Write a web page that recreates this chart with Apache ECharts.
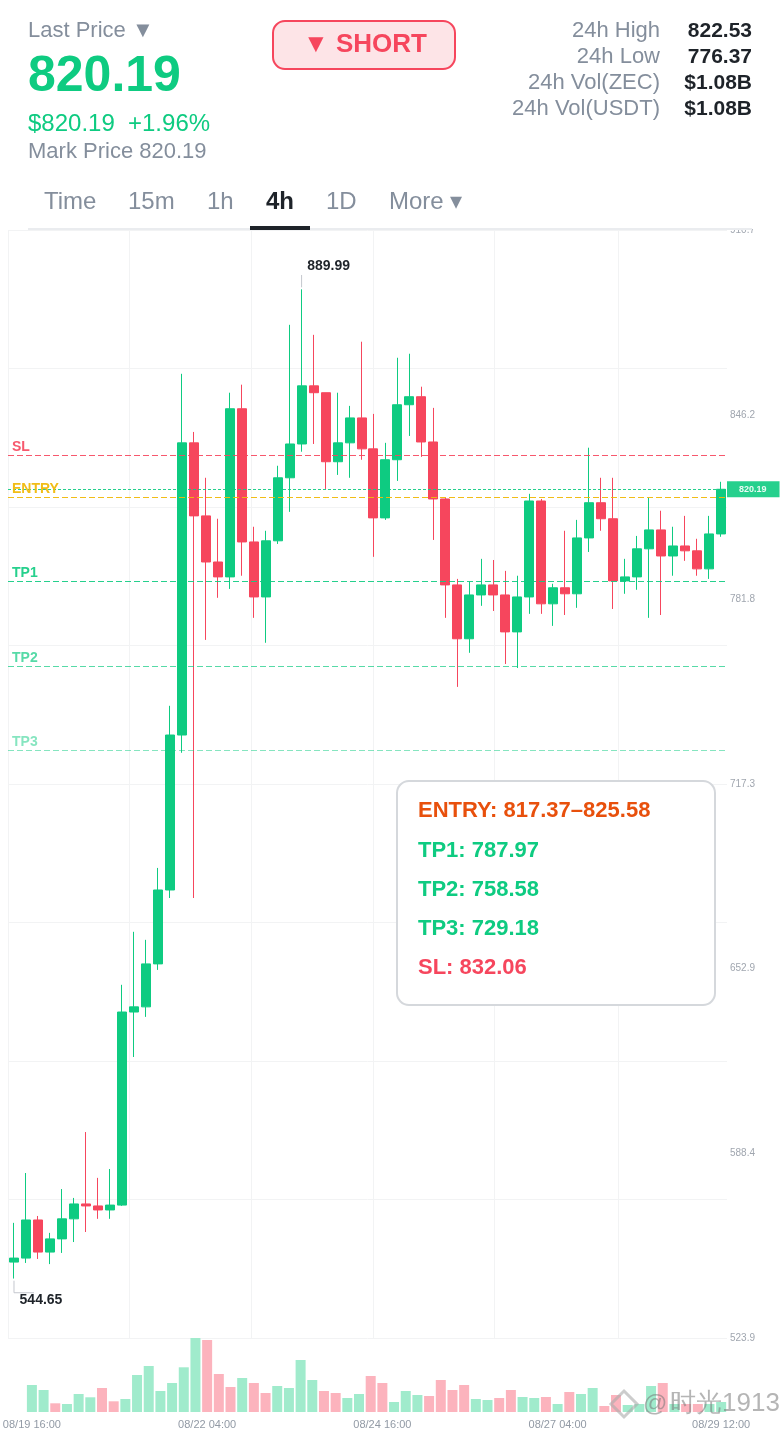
<!DOCTYPE html>
<html><head><meta charset="utf-8">
<style>html,body{margin:0;padding:0;background:#fff}#c{width:780px;height:1430px}</style>
<script src="https://cdn.jsdelivr.net/npm/echarts@6/dist/echarts.min.js"></script>
</head><body><div id="c"></div>
<script>
const categories = ['08/19 16:00','08/19 20:00','08/20 00:00','08/20 04:00','08/20 08:00','08/20 12:00','08/20 16:00','08/20 20:00','08/21 00:00','08/21 04:00','08/21 08:00','08/21 12:00','08/21 16:00','08/21 20:00','08/22 00:00','08/22 04:00','08/22 08:00','08/22 12:00','08/22 16:00','08/22 20:00','08/23 00:00','08/23 04:00','08/23 08:00','08/23 12:00','08/23 16:00','08/23 20:00','08/24 00:00','08/24 04:00','08/24 08:00','08/24 12:00','08/24 16:00','08/24 20:00','08/25 00:00','08/25 04:00','08/25 08:00','08/25 12:00','08/25 16:00','08/25 20:00','08/26 00:00','08/26 04:00','08/26 08:00','08/26 12:00','08/26 16:00','08/26 20:00','08/27 00:00','08/27 04:00','08/27 08:00','08/27 12:00','08/27 16:00','08/27 20:00','08/28 00:00','08/28 04:00','08/28 08:00','08/28 12:00','08/28 16:00','08/28 20:00','08/29 00:00','08/29 04:00','08/29 08:00','08/29 12:00'];
const opens  = [550.4,551.8,565.1,553.9,558.5,565.5,570.7,570.0,568.6,570.3,637.7,639.5,654.5,680.3,734.4,836.4,810.9,794.8,789.6,848.3,801.8,782.6,802.2,824.2,836.0,856.3,853.9,829.8,836.4,845.1,834.3,810.2,830.5,849.7,852.5,836.7,816.8,786.8,768.0,783.3,786.8,783.3,770.4,782.6,816.1,780.2,785.8,783.7,803.2,815.5,809.9,788.2,789.6,799.4,806.0,796.9,800.4,798.7,792.4,804.6];
const closes = [551.8,565.1,553.9,558.5,565.5,570.7,570.0,568.6,570.3,637.7,639.5,654.5,680.3,734.4,836.4,810.9,794.8,789.6,848.3,801.8,782.6,802.2,824.2,836.0,856.3,853.9,829.8,836.4,845.1,834.3,810.2,830.5,849.7,852.5,836.7,816.8,786.8,768.0,783.3,786.8,783.3,770.4,782.6,816.1,780.2,785.8,783.7,803.2,815.5,809.9,788.2,789.6,799.4,806.0,796.9,800.4,798.7,792.4,804.6,820.19];
const lows   = [544.65,550.1,551.5,549.7,553.6,557.4,560.9,565.5,565.5,570.0,622.0,636.0,652.4,677.5,728.2,677.5,767.6,782.3,785.4,790.0,775.3,766.6,801.1,812.3,833.3,836.0,820.3,825.2,824.2,830.5,796.6,809.5,823.1,838.8,831.5,802.5,775.3,751.2,763.1,779.5,777.7,759.2,757.8,776.7,776.7,772.5,776.3,778.8,798.3,805.7,778.4,783.7,785.1,775.3,776.3,790.0,795.2,790.0,788.9,803.6];
const highs  = [564.1,581.5,566.5,560.6,575.9,572.8,595.8,579.8,582.9,647.2,665.7,662.9,688.0,744.6,860.5,840.2,824.2,809.9,853.9,856.7,807.1,805.7,828.4,877.6,889.99,874.1,853.9,853.9,849.3,871.7,846.5,836.4,866.1,867.5,856.0,848.6,817.2,788.9,787.9,795.9,795.5,791.7,790.0,818.6,816.8,787.2,805.7,809.5,834.7,824.2,824.2,795.9,803.9,817.2,812.7,807.1,810.9,802.9,810.9,822.8];
const volumes = [27,22,8.7,8,18,14.7,24,10.7,13,37,46,21,29,44.7,74,72,38,25,34,29,19,26,24,52,32,21,19,14,18,36,29,10,21,17,16,32,22,27,13,12,14,22,15,14,15,8,20,18,24,6,17,7,8,26,29,8,8,8,8,10];
const xLabelIndexes = [0,15,30,45,59];
const priceTicks = [523.9,588.4,652.9,717.3,781.8,846.2,910.7];
const priceGrid = [523.9,572.25,620.6,668.95,717.3,765.65,814.0,862.35,910.7];
const timeGrid = [-0.5,9.63,19.8,30.0,40.1,50.4];
const lastPrice = 820.19, highMark = 889.99, lowMark = 544.65;
const levels = [['SL',832.06,'#f6465d',0.9],['ENTRY',817.37,'#f0b90b',0.95],['TP1',787.97,'#0ecb81',0.9],['TP2',758.58,'#0ecb81',0.7],['TP3',729.18,'#0ecb81',0.5]];
const highLeader = [[24,890.7],[24,895]];
const lowLeader = [[0,543.9],[0,539.7],[1.67,539.7]];
const panelLines = [['ENTRY: 817.37–825.58','#e8500c'],['TP1: 787.97','#0ecb81'],['TP2: 758.58','#0ecb81'],['TP3: 729.18','#0ecb81'],['SL: 832.06','#f6465d']];
const tabs = [['Time',44],['15m',128],['1h',207],['4h',266],['1D',326],['More ▾',389]];
const stats = [['24h High','822.53'],['24h Low','776.37'],['24h Vol(ZEC)','$1.08B'],['24h Vol(USDT)','$1.08B']];

const GREEN='#0ecb81',RED='#f6465d',GRAY='#848e9c',INK='#1e2329',FONT='"Liberation Sans",Arial,sans-serif';
const txt=(text,x,y,size,fill,weight,align,extra)=>Object.assign({type:'text',z:110,style:{text,x,y,fill,font:(weight||'normal')+' '+size+'px '+FONT,textAlign:align||'left',textVerticalAlign:'middle'}},extra||{});
const els=[{type:'rect',z:100,shape:{x:0,y:0,width:780,height:229},style:{fill:'#fff'}},
 {type:'rect',z:105,shape:{x:28,y:228,width:724,height:2},style:{fill:'#eaecef'}},
 {type:'rect',z:106,shape:{x:250,y:226,width:60,height:4},style:{fill:INK}},
 {type:'rect',z:105,shape:{x:273,y:21,width:182,height:48,r:12},style:{fill:'#fde4e7',stroke:RED,lineWidth:2}},
 txt('Last Price ▼',28,31,22,GRAY),txt('820.19',28,77,50,GREEN,'bold'),
 txt('$820.19',28,124,24,GREEN),txt('+1.96%',128,124,24,GREEN),txt('Mark Price 820.19',28,152,22,GRAY),
 txt('▼ SHORT',365,45,26,RED,'bold','center')];
tabs.forEach(t=>els.push(txt(t[0],t[1],202,24,t[0]==='4h'?INK:GRAY,t[0]==='4h'?'bold':'normal')));
stats.forEach((s,i)=>{els.push(txt(s[0],660,31+26*i,22,GRAY,'normal','right'));els.push(txt(s[1],752,31+26*i,21,INK,'bold','right'));});
els.push({type:'rect',z:105,shape:{x:397,y:781,width:318,height:224,r:12},style:{fill:'#fff',stroke:'#d5d8dc',lineWidth:2}});
panelLines.forEach((l,i)=>els.push(txt(l[0],418,[811,851,890,929,968][i],22,l[1],'bold')));
// watermark
els.push({type:'polygon',z:120,shape:{points:[[624,1391],[637,1404],[624,1417],[611,1404]]},style:{fill:'none',stroke:'rgba(170,170,170,.6)',lineWidth:3}});
els.push(txt('@',643,1404,24,'rgba(120,120,120,.55)','normal','left',{z:120}));
els.push(txt('时光1913',670,1404,26,'rgba(120,120,120,.55)','normal','left',{z:120}));

const levelLines=levels.map(l=>({yAxis:l[1],lineStyle:{color:l[2],opacity:l[3],type:[6,3],width:1.2},
  label:{show:true,position:'insideStartTop',formatter:l[0],color:l[2],fontWeight:'bold',fontSize:14,fontFamily:FONT,distance:[4,1]}}));
levelLines.push({yAxis:lastPrice,lineStyle:{color:GREEN,opacity:.9,type:[3,2],width:1.2},
  label:{show:true,position:'end',distance:0,formatter:String(lastPrice),color:'#fff',fontWeight:'bold',fontSize:9,fontFamily:FONT,backgroundColor:GREEN,padding:[4,13,3,12]}});

const chart=echarts.init(document.getElementById('c'),null,{renderer:'canvas'});
chart.setOption({animation:false,backgroundColor:'#fff',
 graphic:{elements:els},
 grid:[{left:8,top:230,width:719,height:1108},{left:8,top:1338,width:719,height:74}],
 xAxis:[
  {type:'category',gridIndex:0,data:categories,show:false},
  {type:'category',gridIndex:1,data:categories,axisLine:{show:false},axisTick:{show:false},splitLine:{show:false},
   axisLabel:{show:true,interval:(i)=>xLabelIndexes.includes(i),color:'#929aa5',fontSize:11,fontFamily:FONT,margin:7,hideOverlap:false}},
  {type:'value',gridIndex:0,min:-0.5,max:59.5,position:'bottom',axisLine:{show:false},axisLabel:{show:false},
   axisTick:{show:false,customValues:timeGrid},splitLine:{show:true,lineStyle:{color:'#f2f3f4',width:1}}}
 ],
 yAxis:[
  {type:'value',gridIndex:0,position:'right',min:523.9,max:910.7,axisLine:{show:false},
   axisTick:{show:false,customValues:priceGrid},splitLine:{show:true,lineStyle:{color:'#f2f3f4',width:1}},
   axisLabel:{show:true,customValues:priceTicks,formatter:v=>v.toFixed(1),color:'#a0a6af',fontSize:10,fontFamily:FONT,margin:3}},
  {type:'value',gridIndex:1,min:0,max:74,show:false}
 ],
 series:[
  {type:'candlestick',xAxisIndex:0,yAxisIndex:0,barWidth:9.5,
   data:opens.map((o,i)=>[o,closes[i],lows[i],highs[i]]),
   itemStyle:{color:GREEN,color0:RED,borderColor:GREEN,borderColor0:RED,borderWidth:1},
   markLine:{silent:true,symbol:'none',animation:false,data:levelLines},
   markPoint:{silent:true,animation:false,symbol:'circle',symbolSize:1,itemStyle:{color:'transparent'},
    data:[{coord:[24,highMark],label:{show:true,position:'inside',offset:[27,-23.5],formatter:highMark.toFixed(2),color:INK,fontWeight:'bold',fontSize:14,fontFamily:FONT}},
          {coord:[0,lowMark],label:{show:true,position:'inside',offset:[27,21.4],formatter:lowMark.toFixed(2),color:INK,fontWeight:'bold',fontSize:14,fontFamily:FONT}}]}},
  {type:'bar',xAxisIndex:1,yAxisIndex:1,barWidth:10,data:volumes,
   itemStyle:{color:p=>closes[p.dataIndex]>=opens[p.dataIndex]?'#a0ebcc':'#fcb3bd'}},
  {type:'line',xAxisIndex:2,yAxisIndex:0,data:lowLeader,symbol:'none',lineStyle:{color:'#c4c7ce',width:1},silent:true},
  {type:'line',xAxisIndex:2,yAxisIndex:0,data:highLeader,symbol:'none',lineStyle:{color:'#c4c7ce',width:1},silent:true}
 ]});
</script></body></html>
